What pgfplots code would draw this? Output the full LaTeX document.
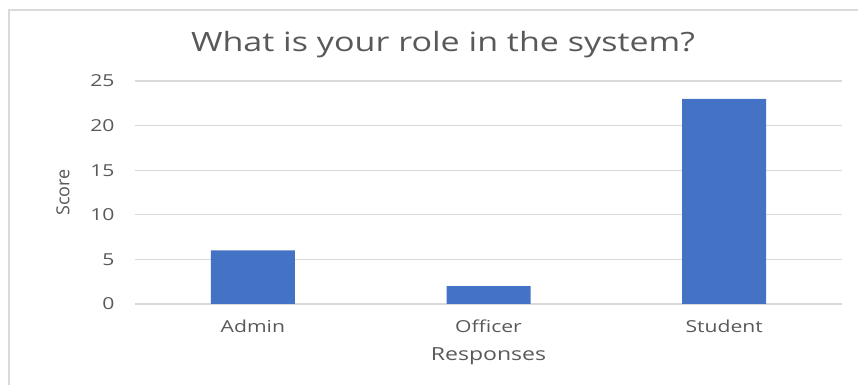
\documentclass[border=0pt]{standalone}
\usepackage{fontspec}
\setmainfont[FakeStretch=1.28]{Open Sans}
\newfontfamily\plainfont{Open Sans}
\usepackage{pgfplots}
\pgfplotsset{compat=1.18}
\definecolor{barblue}{HTML}{4472C4}
\definecolor{txtgray}{HTML}{595959}
\definecolor{gridgray}{HTML}{D9D9D9}
\begin{document}
\begin{tikzpicture}
\useasboundingbox (0pt,0pt) rectangle (858pt,385pt);
\draw[gridgray, line width=1.5pt] (9pt,0pt) -- (9pt,375pt) -- (858pt,375pt);
\begin{axis}[
  at={(135pt,81pt)}, anchor=south west,
  scale only axis, width=707pt, height=223pt,
  xmin=-0.5, xmax=2.5, ymin=0, ymax=25,
  ytick={0,5,10,15,20,25},
  xtick={0,1,2}, xticklabels={Admin,Officer,Student},
  axis line style={draw=none},
  major tick length=0pt,
  ymajorgrids, grid style={gridgray, line width=1.2pt},
  /pgf/number format/assume math mode=true,
  ticklabel style={font=\fontsize{16.5}{20}\selectfont, text=txtgray},
  yticklabel style={anchor=east, xshift=-17pt},
  xticklabel style={anchor=center, yshift=-22pt},
  title={What is your role in the system?},
  title style={font=\fontsize{26.6}{30}\selectfont, text=txtgray, at={(axis description cs:0.4356,1)}, anchor=center, yshift=30pt},
  xlabel={Responses},
  xlabel style={font=\fontsize{18}{21}\selectfont, text=txtgray, at={(axis description cs:0.5,0)}, anchor=center, yshift=-52pt},
  ylabel={Score},
  ylabel style={font=\plainfont\fontsize{18}{21}\selectfont, text=txtgray, at={(axis description cs:-0.1018,0.5)}, anchor=center},
]
\addplot[ybar, bar width=84pt, fill=barblue, draw=none] coordinates {(0,6) (1,2) (2,23)};
\end{axis}
\end{tikzpicture}
\end{document}
